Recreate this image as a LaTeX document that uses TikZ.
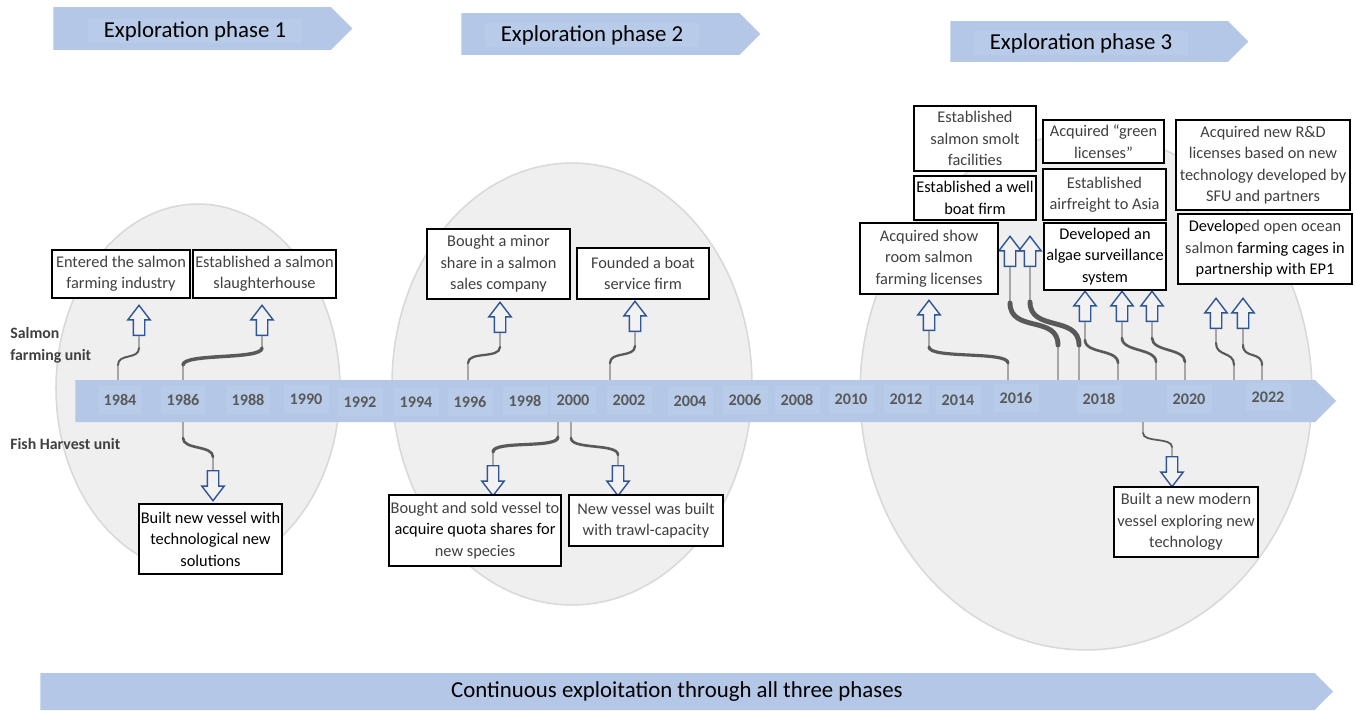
\documentclass[tikz,border=0pt]{standalone}
\usepackage{fontspec}
\setmainfont{Carlito}
\usetikzlibrary{shapes.arrows,shapes.symbols}

\definecolor{bandblue}{RGB}{180,199,231}
\definecolor{tickfill}{RGB}{184,204,233}
\definecolor{phasebg}{RGB}{239,239,239}
\definecolor{phaseedge}{RGB}{217,217,217}
\definecolor{arrowblue}{RGB}{47,85,151}
\definecolor{arrowfill}{RGB}{242,242,242}
\definecolor{txtgray}{RGB}{64,64,64}
\definecolor{yeargray}{RGB}{89,89,89}
\definecolor{stemgray}{RGB}{166,166,166}
\definecolor{bendgray}{RGB}{89,89,89}

\tikzset{
  banner/.style={signal, signal to=east, fill=bandblue, inner sep=0pt, anchor=west},
  bannertext/.style={fill=tickfill, font=\fontsize{13}{15}\selectfont, inner sep=0pt, minimum width=4.3cm, minimum height=0.48cm},
  yearlabel/.style={fill=tickfill, text=yeargray, font=\bfseries\fontsize{9.2}{11}\selectfont, minimum width=0.9cm, minimum height=0.56cm, inner sep=0pt},
  event/.style 2 args={draw=black, fill=white, line width=0.8pt, align=center, inner sep=0pt, text=txtgray, font=\fontsize{9.3}{12.2}\selectfont, minimum width=#1, minimum height=#2},
  uparrow/.style={single arrow, draw=arrowblue, fill=arrowfill, line width=0.8pt, minimum height=0.6cm, inner sep=0.1cm, single arrow head extend=0.11cm, single arrow tip angle=75, shape border rotate=90, anchor=tail},
  downarrow/.style={uparrow, shape border rotate=270},
  stemline/.style={draw=stemgray, line width=0.7pt},
  curvelink/.style={draw=bendgray, line cap=round},
  unitlabel/.style={font=\bfseries\fontsize{9}{12.5}\selectfont, text=txtgray, align=left, anchor=west, inner sep=0pt}
}

\begin{document}
\begin{tikzpicture}[x=0.02cm, y=-0.02cm]
\useasboundingbox (0,0) rectangle (1355,710);

% phases in the background
\draw[fill=phasebg, draw=phaseedge, line width=0.9pt] (198,388) ellipse [x radius=2.84cm, y radius=3.68cm];
\draw[fill=phasebg, draw=phaseedge, line width=0.9pt] (572,384) ellipse [x radius=3.6cm, y radius=4.42cm];
\draw[fill=phasebg, draw=phaseedge, line width=0.9pt] (1086,392) ellipse [x radius=4.52cm, y radius=5.16cm];

% phase banners
\node[banner, minimum width=5.98cm, minimum height=0.86cm] (ph1) at (53,28.5) {};
\node[bannertext] (ph1t) at (195,31) {Exploration phase 1};
\node[banner, minimum width=5.98cm, minimum height=0.84cm] (ph2) at (461,34) {};
\node[bannertext] (ph2t) at (592,35) {Exploration phase 2};
\node[banner, minimum width=5.96cm, minimum height=0.82cm] (ph3) at (950,41.5) {};
\node[bannertext] (ph3t) at (1081,43) {Exploration phase 3};

% time line
\node[banner, minimum width=25.22cm, minimum height=0.84cm] (timeline) at (75,401) {};
\foreach \yr/\xp/\yp in {1984/120/400, 1986/183/400, 1988/248/400, 1990/306/399,
    1992/360/402, 1994/416/402, 1996/470/402, 1998/525/401, 2000/573/400,
    2002/629/400, 2004/690/401, 2006/745/400, 2008/797/400, 2010/851/399,
    2012/906/399, 2014/958/400, 2016/1016/398, 2018/1099/399, 2020/1189/399,
    2022/1268/397}
  \node[yearlabel] (y\yr) at (\xp,\yp) {\yr};

\node[unitlabel] (sfu) at (10,345) {Salmon\\farming unit};
\node[unitlabel] (fhu) at (10,444) {Fish Harvest unit};

% start points on the time line
\coordinate (s84) at (118,380);
\coordinate (s86) at (183,380);
\coordinate (s96) at (468,380);
\coordinate (s02) at (610,380);
\coordinate (s16) at (1008,380);
\coordinate (s17a) at (1058,380);
\coordinate (s17b) at (1079,380);
\coordinate (s18) at (1118,380);
\coordinate (s19) at (1156,380);
\coordinate (s20) at (1185,380);
\coordinate (s21) at (1234,380);
\coordinate (s22) at (1262,380);
\coordinate (h86) at (183,422);
\coordinate (h00a) at (558,422);
\coordinate (h00b) at (571,422);
\coordinate (h19) at (1143,422);

% arrows
\node[uparrow] (a1) at (139,336) {};
\node[uparrow] (a2) at (262,336) {};
\node[uparrow] (a3) at (500,333) {};
\node[uparrow] (a4) at (635,332) {};
\node[uparrow] (a5) at (929,331) {};
\node[uparrow] (a6) at (1010,267) {};
\node[uparrow] (a7) at (1030,267) {};
\node[uparrow] (a8) at (1085,322) {};
\node[uparrow] (a9) at (1122,322) {};
\node[uparrow] (a10) at (1152,322) {};
\node[uparrow] (a11) at (1216,329) {};
\node[uparrow] (a12) at (1243,329) {};
\node[downarrow] (b1) at (213,470) {};
\node[downarrow] (b2) at (493,465) {};
\node[downarrow] (b3) at (618,465) {};
\node[downarrow] (b4) at (1172,456) {};

% links
\foreach \src/\arr/\lo/\hi/\ctl/\lw in {s84/a1/15/12/12/1.1pt, s86/a2/15/12/12/2pt,
    s96/a3/17/14/12/1.3pt, s02/a4/17/14/12/1.3pt, s16/a5/17/16/12/1.8pt,
    s17a/a6/35/36/30/2.8pt, s17b/a7/35/35/30/2.8pt, s18/a8/17/18/14/1.5pt,
    s19/a9/18/16/14/1.5pt, s20/a10/18/16/14/1.5pt, s21/a11/15/14/14/1.2pt,
    s22/a12/15/16/14/1.2pt}
{
  \draw[stemline] (\src) -- ++(0,-\lo) coordinate (k1);
  \draw[stemline] (\arr.tail) -- ++(0,\hi) coordinate (k2);
  \draw[curvelink, line width=\lw] (k1) .. controls +(0,-\ctl) and +(0,\ctl) .. (k2);
}
\foreach \src/\arr/\lo/\hi/\ctl/\lw in {h86/b1/16/13/12/1.5pt, h00a/b2/15/13/12/1.8pt,
    h00b/b3/16/10/12/1.5pt, h19/b4/11/9/10/1.0pt}
{
  \draw[stemline] (\src) -- ++(0,\lo) coordinate (k1);
  \draw[stemline] (\arr.tail) -- ++(0,-\hi) coordinate (k2);
  \draw[curvelink, line width=\lw] (k1) .. controls +(0,\ctl) and +(0,-\ctl) .. (k2);
}

% events, phase 1
\node[event={2.76cm}{0.96cm}] (e1) at (121,274) {Entered the salmon\\farming industry};
\node[event={2.86cm}{0.96cm}] (e2) at (264.5,274) {Established a salmon\\slaughterhouse};
\node[event={2.86cm}{1.40cm}, text=black] (e3) at (210.5,539) {Built new vessel with\\technological new\\solutions};

% events, phase 2
\node[event={2.86cm}{1.40cm}] (e4) at (498.5,264) {Bought a minor\\share in a salmon\\sales company};
\node[event={2.64cm}{1.02cm}] (e5) at (643,273.5) {Founded a boat\\service firm};
\node[event={3.44cm}{1.42cm}] (e6) at (475,530.5) {Bought and sold vessel to\\{\color{black}acquire quota shares for}\\new species};
\node[event={3.08cm}{1.02cm}] (e7) at (646,520.5) {New vessel was built\\with trawl-capacity};

% events, phase 3
\node[event={2.44cm}{1.30cm}] (e8) at (975,138.5) {Established\\salmon smolt\\facilities};
\node[event={2.44cm}{0.88cm}, text=black] (e9) at (975,198) {Established a well\\boat firm};
\node[event={2.76cm}{1.42cm}] (e10) at (929,258.5) {Acquired show\\room salmon\\farming licenses};
\node[event={2.42cm}{0.86cm}] (e11) at (1103.5,141.5) {Acquired “green\\licenses”};
\node[event={2.46cm}{1.02cm}] (e12) at (1104.5,194.5) {Established\\airfreight to Asia};
\node[event={2.44cm}{1.34cm}, text=black] (e13) at (1105,256.5) {Developed an\\algae surveillance\\system};
\node[event={3.48cm}{1.80cm}] (e14) at (1263,165) {Acquired new R\&D\\licenses based on new\\technology developed by\\SFU and partners};
\node[event={3.48cm}{1.40cm}] (e15) at (1265,249) {{\color{black}Develop}ed open ocean\\salmon {\color{black}farming cages in}\\{\color{black}partnership with EP1}};
\node[event={2.88cm}{1.40cm}] (e16) at (1186,522) {Built a new modern\\vessel exploring new\\technology};

% exploitation
\node[banner, minimum width=25.86cm, minimum height=0.74cm] (exploit) at (40,691.5) {};
\node[font=\fontsize{13}{15}\selectfont, inner sep=0pt] (exploitt) at (677,692) {Continuous exploitation through all three phases};
\end{tikzpicture}
\end{document}
